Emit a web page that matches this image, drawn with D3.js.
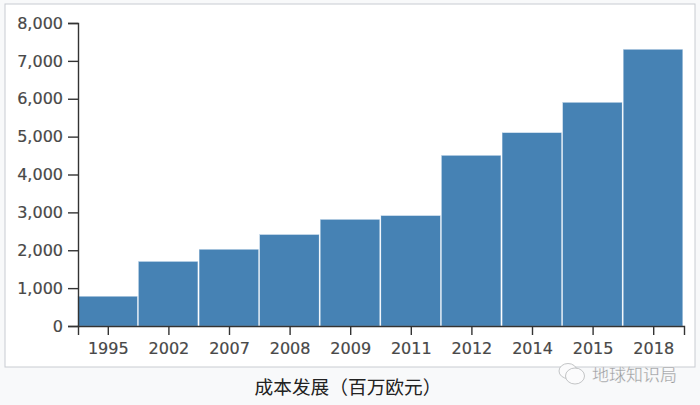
<!DOCTYPE html>
<html><head><meta charset="utf-8">
<script src="https://cdnjs.cloudflare.com/ajax/libs/d3/7.8.5/d3.min.js"></script>
<style>html,body{margin:0;padding:0;background:#f8f9fa}svg{display:block}</style>
</head><body><svg id="c" width="700" height="405"></svg>
<script>
const categories=["1995","2002","2007","2008","2009","2011","2012","2014","2015","2018"];
const values=[780,1700,2020,2410,2810,2910,4500,5100,5900,7300];
const yTicks=[0,1000,2000,3000,4000,5000,6000,7000,8000];
const captionText="成本发展（百万欧元）";
const watermarkText="地球知识局";

const svg=d3.select("#c");
svg.append("rect").attr("x",5).attr("y",4).attr("width",690).attr("height",363)
  .attr("fill","#fff").attr("stroke","#c8ccd1").attr("stroke-width",1);
const x=d3.scaleBand().domain(categories).range([78,684]);
const y=d3.scaleLinear().domain([0,8000]).range([326,23]);
svg.append("g").selectAll("rect").data(categories).join("rect")
  .attr("x",d=>x(d)).attr("width",x.bandwidth()-1.4)
  .attr("y",(d,i)=>y(values[i])).attr("height",(d,i)=>y(0)-y(values[i]))
  .attr("fill","#4682b4").attr("stroke","#a9c6e0").attr("stroke-width",0.3);
const font="'DejaVu Sans',sans-serif";
const gy=svg.append("g").attr("transform","translate(78,0)")
  .call(d3.axisLeft(y).tickValues(yTicks).tickSize(10).tickPadding(5).tickFormat(d3.format(",")));
const gx=svg.append("g").attr("transform","translate(0,326)")
  .call(d3.axisBottom(x).tickSize(9).tickPadding(8));
[gy,gx].forEach(g=>{
  g.selectAll("path,line").attr("stroke","#333").attr("stroke-width",1.4);
  g.selectAll("text").attr("fill","#484848").attr("stroke","#484848").attr("stroke-width",0.2)
   .style("font-family",font).style("font-size","16px");
});
svg.append("text").attr("x",348).attr("y",394).attr("text-anchor","middle")
  .style("font-family","'Noto Sans CJK SC'").style("font-size","18.7px").attr("fill","#222").text(captionText);
// watermark
const wm=svg.append("g").attr("fill","#fbfbfc").attr("stroke","#b4b6b8").attr("stroke-width",0.8);
wm.append("ellipse").attr("cx",568).attr("cy",371).attr("rx",9).attr("ry",7.5);
wm.append("ellipse").attr("cx",575).attr("cy",376).attr("rx",9.5).attr("ry",8);
svg.append("text").attr("x",592).attr("y",381).style("font-family","'Noto Sans CJK SC'")
  .style("font-size","17px").attr("fill","#9a9c9e").attr("stroke","#fff").attr("stroke-width",0.3).text(watermarkText);
</script></body></html>
